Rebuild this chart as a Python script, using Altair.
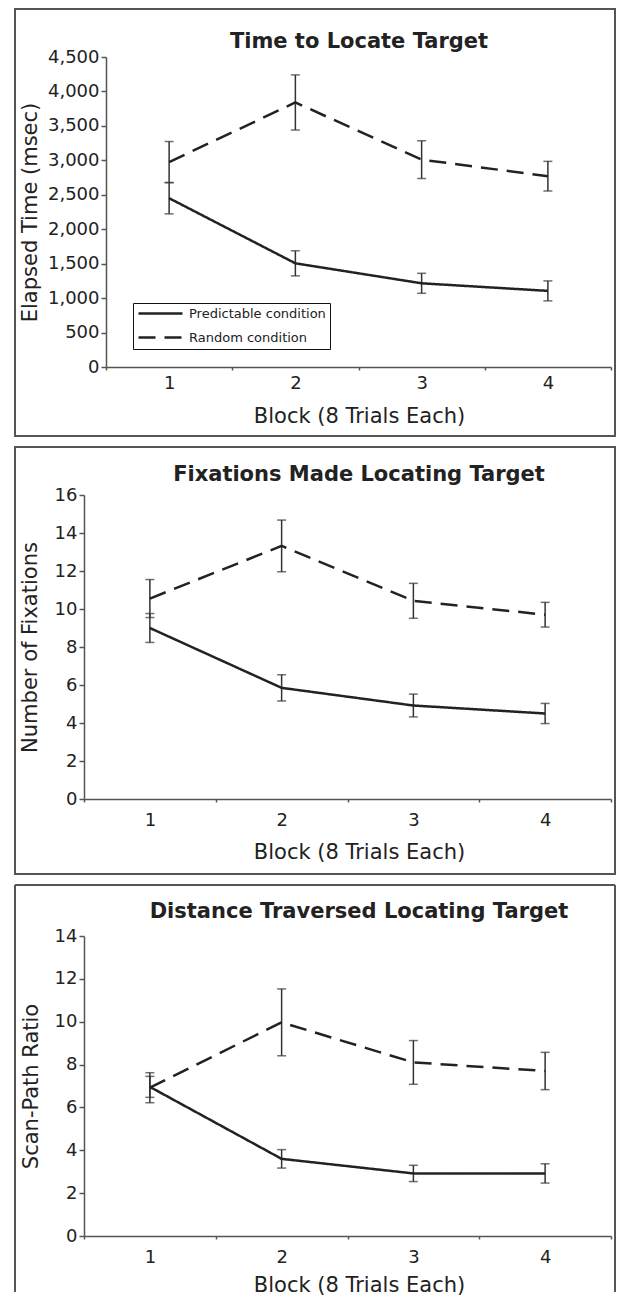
import altair as alt
import pandas as pd

FONT = "DejaVu Sans"

blocks = [1, 2, 3, 4]
conditions = ["Predictable condition", "Random condition"]

# Panel 1: Time to Locate Target (msec)
time_pred = [2450, 1505, 1215, 1105]
time_pred_err = [227, 182, 145, 145]
time_rand = [2975, 3840, 3010, 2770]
time_rand_err = [298, 400, 274, 215]

# Panel 2: Fixations made locating target
fix_pred = [9.0, 5.85, 4.92, 4.5]
fix_pred_err = [0.76, 0.69, 0.6, 0.53]
fix_rand = [10.55, 13.32, 10.43, 9.7]
fix_rand_err = [1.0, 1.36, 0.92, 0.65]

# Panel 3: Scan-path ratio
scan_pred = [6.96, 3.6, 2.92, 2.92]
scan_pred_err = [0.49, 0.43, 0.38, 0.45]
scan_rand = [6.92, 9.97, 8.1, 7.7]
scan_rand_err = [0.7, 1.56, 1.02, 0.87]


def make_df(pred, pred_err, rand, rand_err):
    rows = []
    for cond, means, errs in [(conditions[0], pred, pred_err), (conditions[1], rand, rand_err)]:
        for b, m, e in zip(blocks, means, errs):
            rows.append({"block": b, "condition": cond, "mean": m, "lo": m - e, "hi": m + e})
    return pd.DataFrame(rows)


def panel(title, ytitle, pred, pred_err, rand, rand_err, ymax, yvalues, fmt,
          width, height, x0, box, title_xy, xlab_pad, xtitle_y, ytitle_x, show_legend,
          open_bottom=False):
    df = make_df(pred, pred_err, rand, rand_err)
    xaxis = alt.Axis(
        title="Block (8 Trials Each)", labelAngle=0, tickBand="extent", tickSize=3,
        labelPadding=xlab_pad, labelFontSize=18, labelFont=FONT, labelColor="#222",
        domainColor="#555", tickColor="#555", domainWidth=1.5, tickWidth=1.5, grid=False,
        titleFont=FONT, titleFontSize=21, titleFontWeight="normal", titleColor="#222",
        titleX=title_xy[0], titleY=xtitle_y, titleAlign="center", titleBaseline="middle",
    )
    yaxis = alt.Axis(
        title=ytitle, values=yvalues, format=fmt, grid=False, tickSize=5, labelPadding=2,
        labelOverlap=False, offset=-x0,
        labelFontSize=18, labelFont=FONT, labelColor="#222",
        domainColor="#555", tickColor="#555", domainWidth=1.5, tickWidth=1.5,
        titleFont=FONT, titleFontSize=21, titleFontWeight="normal", titleColor="#222",
        titleX=ytitle_x, titleY=height / 2, titleAngle=270, titleAlign="center",
        titleBaseline="middle",
    )
    xscale = alt.Scale(type="band", paddingInner=0, paddingOuter=0, range=[x0, width])
    yscale = alt.Scale(domain=[0, ymax], nice=False)

    def X():
        return alt.X("block:O", scale=xscale, axis=xaxis)

    def Y(field):
        return alt.Y(field, scale=yscale, axis=yaxis)

    if show_legend:
        legend = alt.Legend(
            title=None, orient="none", legendX=49, legendY=246,
            symbolType="M-1,0H7.8", symbolSize=100, symbolStrokeWidth=2.5,
            symbolStrokeColor="#222",
            labelFont=FONT, labelFontSize=13, labelColor="#222", labelOffset=39,
            strokeColor="#111", fillColor="white", padding=4, rowPadding=10,
        )
    else:
        legend = None

    line = alt.Chart(df).mark_line(color="#222", strokeWidth=2.5).encode(
        x=X(), y=Y("mean:Q"),
        strokeDash=alt.StrokeDash(
            "condition:N",
            scale=alt.Scale(domain=conditions, range=[[1, 0], [17, 9]]),
            legend=legend,
        ),
    )
    rule = alt.Chart(df).mark_rule(color="#333", strokeWidth=1.5).encode(
        x=X(), y=Y("lo:Q"), y2="hi:Q",
    )
    cap_lo = alt.Chart(df).mark_tick(color="#333", thickness=1.5, size=9, orient="horizontal").encode(
        x=X(), y=Y("lo:Q"),
    )
    cap_hi = alt.Chart(df).mark_tick(color="#333", thickness=1.5, size=9, orient="horizontal").encode(
        x=X(), y=Y("hi:Q"),
    )
    one = pd.DataFrame({"t": [title]})
    if open_bottom:
        edges = []
        for (a, b, c, d) in [(box[0], box[1], box[2], box[2]),
                             (box[0], box[0], box[2], box[3]),
                             (box[1], box[1], box[2], box[3])]:
            edges.append(alt.Chart(one).mark_rule(stroke="#555", strokeWidth=2).encode(
                x=alt.value(a), x2=alt.value(b), y=alt.value(c), y2=alt.value(d)))
        frame_layers = edges
    else:
        frame_layers = [alt.Chart(one).mark_rect(
            filled=False, stroke="#555", strokeWidth=2
        ).encode(
            x=alt.value(box[0]), x2=alt.value(box[1]), y=alt.value(box[2]), y2=alt.value(box[3]),
        )]
    ttl = alt.Chart(one).mark_text(
        font=FONT, fontSize=21, fontWeight="bold", color="#222", align="center", baseline="middle"
    ).encode(
        text="t:N", x=alt.value(title_xy[0]), y=alt.value(title_xy[1]),
    )
    return alt.layer(*frame_layers, rule, cap_lo, cap_hi, line, ttl).properties(width=width, height=height)


p1 = panel("Time to Locate Target", "Elapsed Time (msec)", time_pred, time_pred_err,
           time_rand, time_rand_err, 4500, list(range(0, 4501, 500)), ",d",
           527, 310, 22, (-69, 531, -48, 379), (275, -15), 4.5, 49.5, -76, True)
p2 = panel("Fixations Made Locating Target", "Number of Fixations", fix_pred, fix_pred_err,
           fix_rand, fix_rand_err, 16, list(range(0, 17, 2)), "d",
           527, 304, 0, (-69, 531, -48, 379), (275, -20), 9, 53, -54, False)
p3 = panel("Distance Traversed Locating Target", "Scan-Path Ratio", scan_pred, scan_pred_err,
           scan_rand, scan_rand_err, 14, list(range(0, 15, 2)), "d",
           527, 300, 0, (-69, 531, -51, 356), (275, -24), 9, 49.5, -53, False, open_bottom=True)

chart = alt.concat(p1, p2, p3, columns=1, spacing=9, bounds="full").properties(
    padding={"left": 6, "top": 0, "right": 0, "bottom": 0}
).configure(font=FONT).configure_view(stroke=None)

chart.save("out.html", embed_options={"renderer": "svg", "actions": False})
